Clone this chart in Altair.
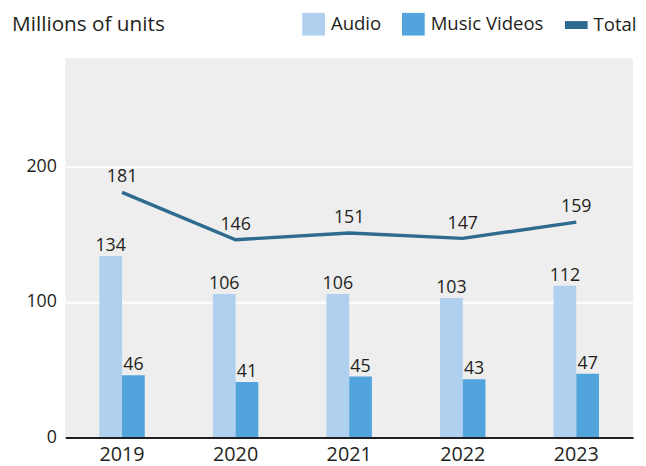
import altair as alt
import pandas as pd

years = ["2019", "2020", "2021", "2022", "2023"]
audio = [134, 106, 106, 103, 112]
videos = [46, 41, 45, 43, 47]
total = [181, 146, 151, 147, 159]

series_names = ["Audio", "Music Videos", "Total"]
series_colors = ["#afd0ef", "#52a4dc", "#2e6b8e"]

rows = []
for i, y in enumerate(years):
    rows.append({"year": y, "series": "Audio", "value": audio[i]})
    rows.append({"year": y, "series": "Music Videos", "value": videos[i]})
    rows.append({"year": y, "series": "Total", "value": total[i]})
df = pd.DataFrame(rows)

FONT = "Open Sans"
TXT = "#231f20"

xscale = alt.Scale(domain=years, paddingInner=0.6, paddingOuter=0.3)
yscale = alt.Scale(domain=[0, 280], nice=False)

color = alt.Color(
    "series:N",
    scale=alt.Scale(domain=series_names, range=series_colors),
    legend=alt.Legend(
        orient="none", legendX=240, legendY=-46, direction="horizontal",
        title=None, padding=0, symbolSize=529,
        symbolType={"expr": "datum.value === 'Total' ? 'M-1,-0.35L1,-0.35L1,0.35L-1,0.35Z' : 'square'"},
        symbolStrokeWidth=0, symbolOpacity=1,
        labelFont=FONT, labelFontSize=18.8, labelColor=TXT,
        labelOffset=6, columnPadding=21,
    ),
)

base = alt.Chart(df)
x_enc = alt.X("year:N", scale=xscale, sort=years,
              axis=alt.Axis(title=None, labelAngle=0, ticks=False, domain=True,
                            domainColor=TXT, domainWidth=2, labelFont=FONT,
                            labelFontSize=20, labelColor=TXT, labelPadding=7,
                            grid=False, zindex=1))
y_enc = alt.Y("value:Q", scale=yscale,
              axis=alt.Axis(title=None, values=[0, 100, 200], domain=False, ticks=False,
                            labelFont=FONT, labelFontSize=18, labelColor=TXT,
                            labelPadding=9, grid=True, gridColor="white", gridWidth=2))

bars_data = base.transform_filter("datum.series !== 'Total'")
bars = bars_data.mark_bar().encode(
    x=x_enc, y=y_enc, xOffset=alt.XOffset("series:N", sort=["Audio", "Music Videos"]),
    color=color,
)
bar_labels = bars_data.mark_text(baseline="alphabetic", dy=-5, font=FONT, fontSize=18,
                                 color=TXT).encode(
    x=alt.X("year:N", scale=xscale, sort=years),
    y=alt.Y("value:Q", scale=yscale),
    xOffset=alt.XOffset("series:N", sort=["Audio", "Music Videos"]),
    text="value:Q",
)

line_data = base.transform_filter("datum.series === 'Total'")
line = line_data.mark_line(strokeWidth=3.5, color="#2e6b8e").encode(
    x=alt.X("year:N", scale=xscale, sort=years),
    y=alt.Y("value:Q", scale=yscale),
)
line_labels = line_data.mark_text(baseline="alphabetic", dy=-10, font=FONT, fontSize=18,
                                  color=TXT).encode(
    x=alt.X("year:N", scale=xscale, sort=years),
    y=alt.Y("value:Q", scale=yscale),
    text="value:Q",
)

chart = alt.layer(bars, bar_labels, line, line_labels).properties(
    width=575, height=384,
    title=alt.TitleParams("Millions of units", anchor="start", font=FONT, fontSize=21,
                          fontWeight="normal", color=TXT, dx=-14, dy=36, offset=14),
    autosize=alt.AutoSizeParams(type="none"),
    padding={"left": 58, "top": 48, "right": 5, "bottom": 26},
).configure_view(fill="#eeeeee", strokeWidth=0)

chart.save("out.html", embed_options={"renderer": "svg", "actions": False})
